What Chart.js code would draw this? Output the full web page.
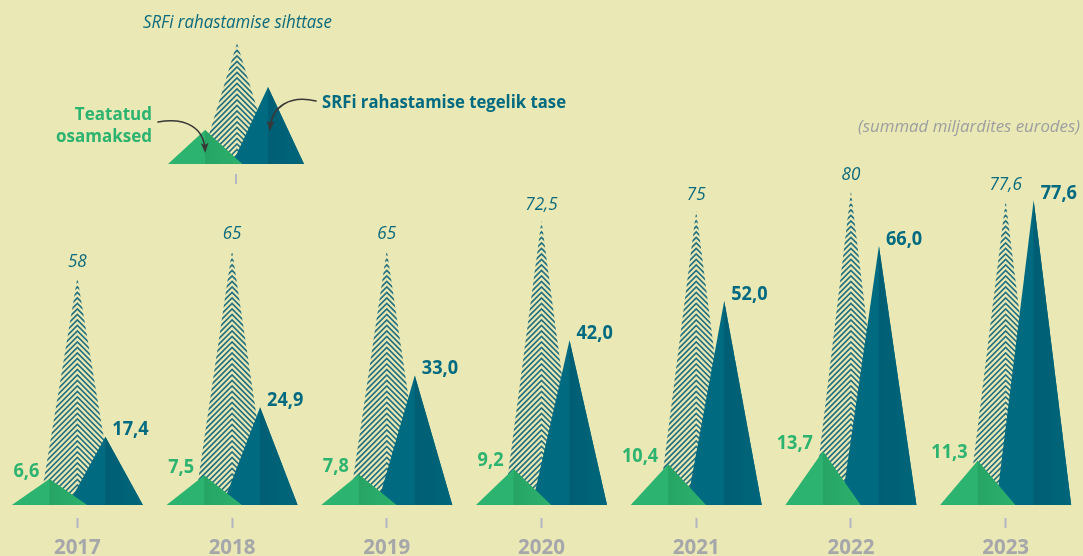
<!DOCTYPE html>
<html><head><meta charset="utf-8">
<script src="https://cdn.jsdelivr.net/npm/chart.js@4/dist/chart.umd.min.js"></script>
<style>
html,body{margin:0;padding:0;background:#EAE8B4;overflow:hidden;}
#wrap{position:relative;width:1083px;height:556px;}
canvas{display:block;}
</style></head><body>
<div id="wrap"><canvas id="c" width="1083" height="556"></canvas></div>
<script>
// ---- data ----
const years = ['2017','2018','2019','2020','2021','2022','2023'];
const reported = [6.6, 7.5, 7.8, 9.2, 10.4, 13.7, 11.3];      // Teatatud osamaksed
const target   = [58, 65, 65, 72.5, 75, 80, 77.6];             // SRFi rahastamise sihttase
const actual   = [17.4, 24.9, 33.0, 42.0, 52.0, 66.0, 77.6];   // SRFi rahastamise tegelik tase
const seriesNames = ['Teatatud osamaksed', 'SRFi rahastamise sihttase', 'SRFi rahastamise tegelik tase'];
const unitNote = '(summad miljardites eurodes)';

const C = {
  bg:'#EAE8B4',
  green:'#2DB370', greenDark:'#26A464', greenEnd:'#2DB16D',
  teal:'#006A80', tealDark:'#005E73', tealEnd:'#00667B',
  hatch:'#24707F', label:'#0B6A7E', gray:'#A6A7AB', note:'#9C9EA1', arrow:'#383838', tick:'#B3B5C2'
};
const FONT = "'Open Sans', 'Noto Sans', sans-serif";
const fmt1 = v => v.toFixed(1).replace('.', ',');
const fmtT = v => String(v).replace('.', ',');

function triPath(ctx, cx, top, base, hw){
  ctx.beginPath(); ctx.moveTo(cx-hw, base); ctx.lineTo(cx, top); ctx.lineTo(cx+hw, base); ctx.closePath();
}
function drawSolid(ctx, cx, top, base, hw, light, dark, end){
  ctx.save();
  triPath(ctx, cx, top, base, hw); ctx.fillStyle = light; ctx.fill(); ctx.clip();
  const g = ctx.createLinearGradient(cx, 0, cx+hw, 0);
  g.addColorStop(0, dark); g.addColorStop(1, end);
  ctx.fillStyle = g; ctx.fillRect(cx, top-1, hw+2, base-top+2);
  ctx.restore();
}
function drawHatch(ctx, cx, top, base, hw){
  ctx.save();
  triPath(ctx, cx, top, base, hw); ctx.clip();
  ctx.strokeStyle = C.hatch; ctx.lineWidth = 1.7;
  ctx.beginPath();
  for (let y = base + 2; y > top - 7; y -= 5.5){
    const d = hw + 4;
    ctx.moveTo(cx - d, y + d); ctx.lineTo(cx, y); ctx.lineTo(cx + d, y + d);
  }
  ctx.stroke();
  ctx.restore();
}
function txt(ctx, s, x, y, font, color, align, sx){
  ctx.save(); ctx.font = font; ctx.fillStyle = color; ctx.textAlign = align; ctx.textBaseline = 'middle';
  ctx.translate(x, y); ctx.scale(sx || 1, 1); ctx.fillText(s, 0, 0); ctx.restore();
}
function txtW(ctx, s, font, sx){ ctx.save(); ctx.font = font; const w = ctx.measureText(s).width*(sx||1); ctx.restore(); return w; }
function txtFit(ctx, s, x0, x1, y, font, color){
  ctx.save(); ctx.font = font; const w = ctx.measureText(s).width;
  ctx.fillStyle = color; ctx.textAlign = 'left'; ctx.textBaseline = 'middle';
  ctx.translate(x0, y); ctx.scale((x1-x0)/w, 1); ctx.fillText(s, 0, 0); ctx.restore();
}
function arrow(ctx, p0, c1, c2, p1){
  ctx.save(); ctx.strokeStyle = C.arrow; ctx.fillStyle = C.arrow; ctx.lineWidth = 1.6; ctx.lineCap='round';
  ctx.beginPath(); ctx.moveTo(p0[0], p0[1]); ctx.bezierCurveTo(c1[0], c1[1], c2[0], c2[1], p1[0], p1[1]); ctx.stroke();
  const a = Math.atan2(p1[1]-c2[1], p1[0]-c2[0]);
  ctx.beginPath();
  ctx.moveTo(p1[0] + 3*Math.cos(a), p1[1] + 3*Math.sin(a));
  ctx.lineTo(p1[0] - 8*Math.cos(a - 0.5), p1[1] - 8*Math.sin(a - 0.5));
  ctx.lineTo(p1[0] - 5*Math.cos(a), p1[1] - 5*Math.sin(a));
  ctx.lineTo(p1[0] - 8*Math.cos(a + 0.5), p1[1] - 8*Math.sin(a + 0.5));
  ctx.closePath(); ctx.fill();
  ctx.restore();
}

const triPlugin = {
  id: 'triangles',
  beforeDraw(chart){
    const ctx = chart.ctx;
    ctx.save(); ctx.fillStyle = C.bg; ctx.fillRect(0, 0, chart.width, chart.height); ctx.restore();
  },
  beforeDatasetsDraw(chart){
    const ctx = chart.ctx;
    const mG = chart.getDatasetMeta(0), mH = chart.getDatasetMeta(1), mT = chart.getDatasetMeta(2);
    const area = chart.chartArea;
    const fVal = `bold 19.5px ${FONT}`, fTgt = `italic 18px ${FONT}`;
    const SX = 0.93;
    for (let i = 0; i < years.length; i++){
      const h = mH.data[i].getProps(['x','y','base','width'], true);
      const t = mT.data[i].getProps(['x','y','base','width'], true);
      const g = mG.data[i].getProps(['x','y','base','width'], true);
      const hw = h.width * 1.34;
      drawHatch(ctx, h.x, h.y, h.base, hw);
      drawSolid(ctx, t.x, t.y, t.base, hw, C.teal, C.tealDark, C.tealEnd);
      drawSolid(ctx, g.x, g.y, g.base, hw, C.green, C.greenDark, C.greenEnd);

      // labels
      const sG = fmt1(reported[i]);
      txt(ctx, sG, g.x - 10, g.y - 8, fVal, C.green, 'right', SX);

      const sT = fmt1(actual[i]);
      const wT = txtW(ctx, sT, fVal, SX);
      let tl = t.x + 7, ty = t.y - 7;
      if (tl + wT > area.right - 5){ tl = area.right - 5 - wT; ty = t.y - 14; }
      txt(ctx, sT, tl, ty, fVal, C.teal, 'left', SX);

      const sH = fmtT(target[i]);
      const wH = txtW(ctx, sH, fTgt, 0.95);
      let hx = h.x, hy = h.y - 16;
      if (hx + wH/2 > tl - 8 && Math.abs(hy - ty) < 18) hx = tl - 8 - wH/2;
      txt(ctx, sH, hx, hy, fTgt, C.label, 'center', 0.95);
    }
    return false;
  },
  afterDraw(chart){
    const ctx = chart.ctx;
    // legend diagram
    drawHatch(ctx, 237, 43, 164, 37);
    drawSolid(ctx, 268, 87, 164, 36, C.teal, C.tealDark, C.tealEnd);
    drawSolid(ctx, 205, 130, 164, 37, C.green, C.greenDark, C.greenEnd);
    ctx.save(); ctx.strokeStyle = C.tick; ctx.lineWidth = 2;
    ctx.beginPath(); ctx.moveTo(236, 174); ctx.lineTo(236, 184); ctx.stroke(); ctx.restore();

    txtFit(ctx, seriesNames[1], 143, 332, 23, `italic 17.5px ${FONT}`, C.label);
    txt(ctx, 'Teatatud', 152, 115, `bold 18.5px ${FONT}`, C.green, 'right', 0.92);
    txt(ctx, 'osamaksed', 152, 137, `bold 18.5px ${FONT}`, C.green, 'right', 0.92);
    txtFit(ctx, seriesNames[2], 322, 566, 103, `bold 18.5px ${FONT}`, C.teal);
    txtFit(ctx, unitNote, 858, 1080, 127, `italic 16px ${FONT}`, C.note);

    arrow(ctx, [158, 122], [186, 117], [204, 128], [205, 150]);
    arrow(ctx, [316, 101], [290, 95], [272, 106], [270, 128]);
  }
};

new Chart(document.getElementById('c'), {
  type: 'bar',
  data: {
    labels: years,
    datasets: [
      { label: seriesNames[0], data: reported, backgroundColor: C.green },
      { label: seriesNames[1], data: target, backgroundColor: C.hatch },
      { label: seriesNames[2], data: actual, backgroundColor: C.teal }
    ]
  },
  options: {
    responsive: false,
    animation: false,
    events: [],
    layout: { padding: 0 },
    datasets: { bar: { categoryPercentage: 0.543, barPercentage: 1, borderWidth: 0 } },
    plugins: { legend: { display: false }, tooltip: { enabled: false } },
    scales: {
      y: { display: false, min: 0, max: 128.7 },
      x: {
        afterFit: s => { s.height = 51; },
        border: { display: false },
        grid: { display: true, offset: false, drawOnChartArea: false, drawTicks: true, tickLength: 23,
                tickColor: C.tick, tickWidth: 2, tickBorderDash: [0, 13, 10, 60] },
        ticks: { color: C.gray, padding: 8, font: { family: FONT, weight: 'bold', size: 20.5 } }
      }
    }
  },
  plugins: [triPlugin]
});
</script>
</body></html>
